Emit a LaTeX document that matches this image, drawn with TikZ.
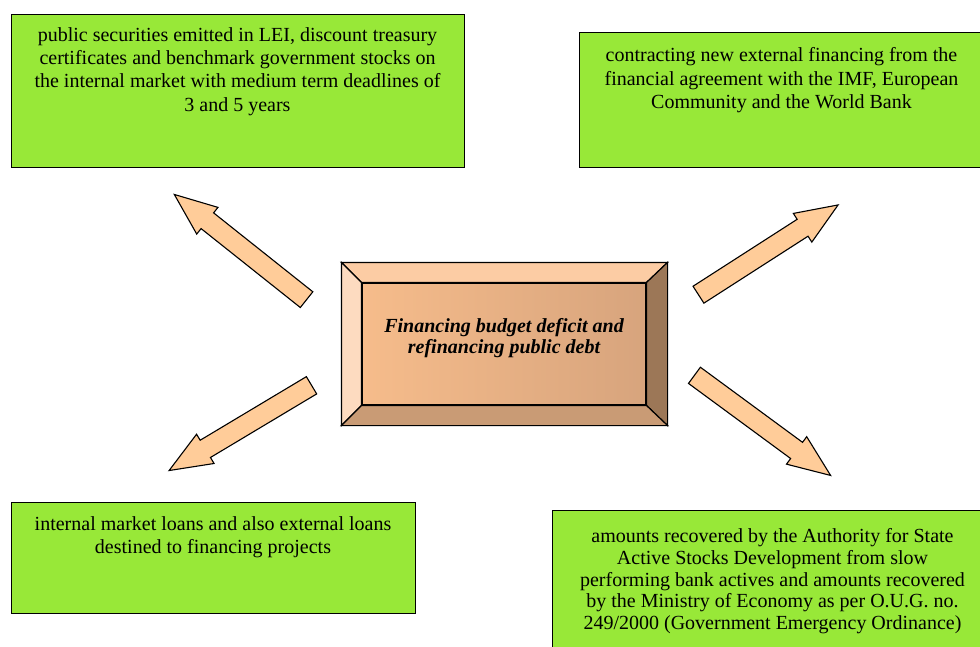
\documentclass[tikz,border=0pt]{standalone}
\usepackage{fontspec}
\setmainfont{Liberation Serif}
\usetikzlibrary{shapes.arrows}

\definecolor{boxgreen}{HTML}{98E838}
\definecolor{arrowpeach}{HTML}{FFCC99}
\definecolor{bevtop}{HTML}{FCCCA4}
\definecolor{bevleft}{HTML}{FDDBC0}
\definecolor{bevright}{HTML}{9C7757}
\definecolor{bevbottom}{HTML}{C99B75}
\definecolor{facelight}{HTML}{F6BC8B}
\definecolor{facedark}{HTML}{D7A47D}

\tikzset{
  greenbox/.style={draw, line width=1.4pt, fill=boxgreen, anchor=north west, inner sep=0},
  boxtext/.style={anchor=north, align=center, inner sep=0, font=\fontsize{20}{23.3}\selectfont},
  bevel/.style={draw, line width=1.2pt, line join=miter},
  blockarrow/.style={single arrow, draw, line width=1.1pt, fill=arrowpeach, sloped, allow upside down,
    pos=0, anchor=tail, inner xsep=0, inner ysep=9.5pt, minimum width=0,
    single arrow head extend=7pt, single arrow tip angle=44},
}

\begin{document}
\begin{tikzpicture}[x=1pt,y=-1pt]
    \clip (0,0) rectangle (980,647);

    % outer boxes
    \node[greenbox, minimum width=453, minimum height=153] (securities) at (11,14) {};
    \node[boxtext] at (237.5,27.1) {public securities emitted in LEI, discount treasury\\
      certificates and benchmark government stocks on\\
      the internal market with medium term deadlines of\\
      3 and 5 years};

    \node[greenbox, minimum width=405, minimum height=135] (financing) at (579,32) {};
    \node[boxtext] at (781.5,47.6) {contracting new external financing from the\\
      financial agreement with the IMF, European\\
      Community and the World Bank};

    \node[greenbox, minimum width=404, minimum height=111] (loans) at (11,502) {};
    \node[boxtext] at (213,516.6) {internal market loans and also external loans\\
      destined to financing projects};

    \node[greenbox, minimum width=441, minimum height=150] (amounts) at (552,510) {};
    \node[boxtext, font=\fontsize{20}{21.6}\selectfont] at (772.5,528.6) {amounts recovered by the Authority for State\\
      Active Stocks Development from slow\\
      performing bank actives and amounts recovered\\
      by the Ministry of Economy as per O.U.G. no.\\
      249/2000 (Government Emergency Ordinance)};

    % center box
    \node[draw, line width=1.2pt, minimum width=284, minimum height=122, inner sep=0,
      left color=facelight, right color=facedark, align=center, text depth=16pt,
      font=\fontsize{20}{21}\selectfont\bfseries\itshape] (deficit) at (504,344)
      {Financing budget deficit and\\refinancing public debt};

    % bevel frame
    \coordinate (fnw) at ([shift={(-20,-20)}]deficit.north west);
    \coordinate (fne) at ([shift={(21,-20)}]deficit.north east);
    \coordinate (fse) at ([shift={(21,20)}]deficit.south east);
    \coordinate (fsw) at ([shift={(-20,20)}]deficit.south west);
    \draw[bevel, fill=bevtop] (fnw) -- (fne) -- (deficit.north east) -- (deficit.north west) -- cycle;
    \draw[bevel, fill=bevleft] (fnw) -- (deficit.north west) -- (deficit.south west) -- (fsw) -- cycle;
    \draw[bevel, fill=bevright] (fne) -- (fse) -- (deficit.south east) -- (deficit.north east) -- cycle;
    \draw[bevel, fill=bevbottom] (deficit.south west) -- (deficit.south east) -- (fse) -- (fsw) -- cycle;

    % arrows
    \foreach \name/\tx/\ty/\hx/\hy/\len in {tl/307/300/175/195/169, tr/698/295/838/205/166,
        bl/312/385/170/470/166, br/694/375/830/475/169} {
      \coordinate (\name tail) at (\tx,\ty);
      \coordinate (\name tip) at (\hx,\hy);
      \path (\name tail) -- node[blockarrow, minimum height=\len] (\name arrow) {} (\name tip);
    }
\end{tikzpicture}
\end{document}
